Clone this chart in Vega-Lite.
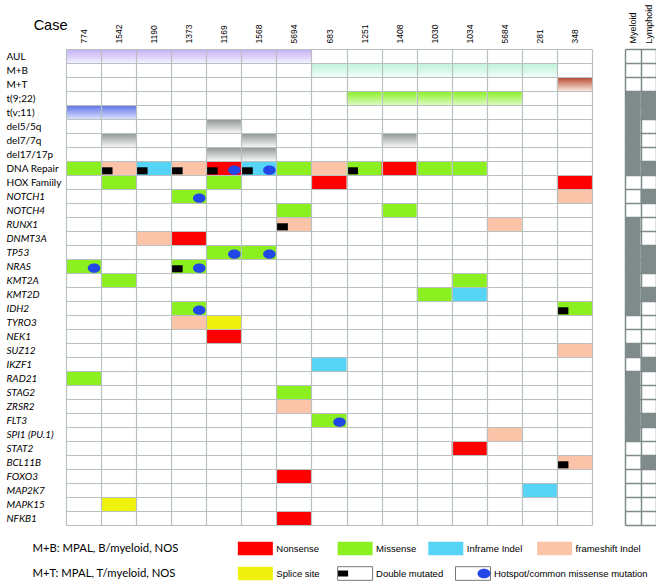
{
  "$schema": "https://vega.github.io/schema/vega-lite/v6.json",
  "padding": {"left": 6, "top": 4, "right": 0, "bottom": 0},
  "background": "white",
  "config": {
    "view": {"stroke": null},
    "font": "Liberation Sans",
    "axis": {"labelColor": "#000", "titleColor": "#000"}
  },
  "datasets": {
    "bands": [
      {"row": "AUL", "case": "774", "type": "AUL"},
      {"row": "AUL", "case": "1542", "type": "AUL"},
      {"row": "AUL", "case": "1190", "type": "AUL"},
      {"row": "AUL", "case": "1373", "type": "AUL"},
      {"row": "AUL", "case": "1169", "type": "AUL"},
      {"row": "AUL", "case": "1568", "type": "AUL"},
      {"row": "AUL", "case": "5694", "type": "AUL"},
      {"row": "M+B", "case": "683", "type": "MB"},
      {"row": "M+B", "case": "1251", "type": "MB"},
      {"row": "M+B", "case": "1408", "type": "MB"},
      {"row": "M+B", "case": "1030", "type": "MB"},
      {"row": "M+B", "case": "1034", "type": "MB"},
      {"row": "M+B", "case": "5684", "type": "MB"},
      {"row": "M+B", "case": "281", "type": "MB"},
      {"row": "M+T", "case": "348", "type": "MT"},
      {"row": "t(9;22)", "case": "1251", "type": "BCR"},
      {"row": "t(9;22)", "case": "1408", "type": "BCR"},
      {"row": "t(9;22)", "case": "1030", "type": "BCR"},
      {"row": "t(9;22)", "case": "1034", "type": "BCR"},
      {"row": "t(9;22)", "case": "5684", "type": "BCR"},
      {"row": "t(v;11)", "case": "774", "type": "KMT"},
      {"row": "t(v;11)", "case": "1542", "type": "KMT"},
      {"row": "del5/5q", "case": "1169", "type": "del"},
      {"row": "del7/7q", "case": "1542", "type": "del"},
      {"row": "del7/7q", "case": "1568", "type": "del"},
      {"row": "del7/7q", "case": "1408", "type": "del"},
      {"row": "del17/17p", "case": "1169", "type": "del"},
      {"row": "del17/17p", "case": "1568", "type": "del"}
    ],
    "muts": [
      {"row": "DNA Repair", "case": "774", "type": "Missense"},
      {"row": "DNA Repair", "case": "1542", "type": "frameshift Indel", "dbl": true},
      {"row": "DNA Repair", "case": "1190", "type": "Inframe Indel", "dbl": true},
      {"row": "DNA Repair", "case": "1373", "type": "frameshift Indel", "dbl": true},
      {"row": "DNA Repair", "case": "1169", "type": "Nonsense", "dbl": true, "hot": true},
      {"row": "DNA Repair", "case": "1568", "type": "Inframe Indel", "dbl": true, "hot": true},
      {"row": "DNA Repair", "case": "5694", "type": "Missense"},
      {"row": "DNA Repair", "case": "683", "type": "frameshift Indel"},
      {"row": "DNA Repair", "case": "1251", "type": "Missense", "dbl": true},
      {"row": "DNA Repair", "case": "1408", "type": "Nonsense"},
      {"row": "DNA Repair", "case": "1030", "type": "Missense"},
      {"row": "DNA Repair", "case": "1034", "type": "Missense"},
      {"row": "HOX Famiily", "case": "1542", "type": "Missense"},
      {"row": "HOX Famiily", "case": "1169", "type": "Missense"},
      {"row": "HOX Famiily", "case": "683", "type": "Nonsense"},
      {"row": "HOX Famiily", "case": "348", "type": "Nonsense"},
      {"row": "NOTCH1", "case": "1373", "type": "Missense", "hot": true},
      {"row": "NOTCH1", "case": "348", "type": "frameshift Indel"},
      {"row": "NOTCH4", "case": "5694", "type": "Missense"},
      {"row": "NOTCH4", "case": "1408", "type": "Missense"},
      {"row": "RUNX1", "case": "5694", "type": "frameshift Indel", "dbl": true},
      {"row": "RUNX1", "case": "5684", "type": "frameshift Indel"},
      {"row": "DNMT3A", "case": "1190", "type": "frameshift Indel"},
      {"row": "DNMT3A", "case": "1373", "type": "Nonsense"},
      {"row": "TP53", "case": "1169", "type": "Missense", "hot": true},
      {"row": "TP53", "case": "1568", "type": "Missense", "hot": true},
      {"row": "NRAS", "case": "774", "type": "Missense", "hot": true},
      {"row": "NRAS", "case": "1373", "type": "Missense", "dbl": true, "hot": true},
      {"row": "KMT2A", "case": "1542", "type": "Missense"},
      {"row": "KMT2A", "case": "1034", "type": "Missense"},
      {"row": "KMT2D", "case": "1030", "type": "Missense"},
      {"row": "KMT2D", "case": "1034", "type": "Inframe Indel"},
      {"row": "IDH2", "case": "1373", "type": "Missense", "hot": true},
      {"row": "IDH2", "case": "348", "type": "Missense", "dbl": true},
      {"row": "TYRO3", "case": "1373", "type": "frameshift Indel"},
      {"row": "TYRO3", "case": "1169", "type": "Splice site"},
      {"row": "NEK1", "case": "1169", "type": "Nonsense"},
      {"row": "SUZ12", "case": "348", "type": "frameshift Indel"},
      {"row": "IKZF1", "case": "683", "type": "Inframe Indel"},
      {"row": "RAD21", "case": "774", "type": "Missense"},
      {"row": "STAG2", "case": "5694", "type": "Missense"},
      {"row": "ZRSR2", "case": "5694", "type": "frameshift Indel"},
      {"row": "FLT3", "case": "683", "type": "Missense", "hot": true},
      {"row": "SPI1 (PU.1)", "case": "5684", "type": "frameshift Indel"},
      {"row": "STAT2", "case": "1034", "type": "Nonsense"},
      {"row": "BCL11B", "case": "348", "type": "frameshift Indel", "dbl": true},
      {"row": "FOXO3", "case": "5694", "type": "Nonsense"},
      {"row": "MAP2K7", "case": "281", "type": "Inframe Indel"},
      {"row": "MAPK15", "case": "1542", "type": "Splice site"},
      {"row": "NFKB1", "case": "5694", "type": "Nonsense"}
    ],
    "lineage": [
      {"row": "t(9;22)", "lin": "Myeloid"}, {"row": "t(9;22)", "lin": "Lymphoid"},
      {"row": "t(v;11)", "lin": "Myeloid"}, {"row": "t(v;11)", "lin": "Lymphoid"},
      {"row": "del5/5q", "lin": "Myeloid"},
      {"row": "del7/7q", "lin": "Myeloid"},
      {"row": "del17/17p", "lin": "Myeloid"},
      {"row": "DNA Repair", "lin": "Myeloid"}, {"row": "DNA Repair", "lin": "Lymphoid"},
      {"row": "NOTCH1", "lin": "Lymphoid"},
      {"row": "RUNX1", "lin": "Myeloid"},
      {"row": "DNMT3A", "lin": "Myeloid"},
      {"row": "TP53", "lin": "Myeloid"}, {"row": "TP53", "lin": "Lymphoid"},
      {"row": "NRAS", "lin": "Myeloid"}, {"row": "NRAS", "lin": "Lymphoid"},
      {"row": "KMT2A", "lin": "Myeloid"},
      {"row": "KMT2D", "lin": "Myeloid"}, {"row": "KMT2D", "lin": "Lymphoid"},
      {"row": "IDH2", "lin": "Myeloid"},
      {"row": "SUZ12", "lin": "Myeloid"},
      {"row": "IKZF1", "lin": "Lymphoid"},
      {"row": "RAD21", "lin": "Myeloid"},
      {"row": "STAG2", "lin": "Myeloid"},
      {"row": "ZRSR2", "lin": "Myeloid"},
      {"row": "FLT3", "lin": "Myeloid"}, {"row": "FLT3", "lin": "Lymphoid"},
      {"row": "SPI1 (PU.1)", "lin": "Myeloid"},
      {"row": "BCL11B", "lin": "Lymphoid"}
    ],
    "legend": [
      {"lrow": "M+B: MPAL, B/myeloid, NOS", "slot": "s19", "label": "Nonsense", "kind": "Nonsense"},
      {"lrow": "M+B: MPAL, B/myeloid, NOS", "slot": "s30", "label": "Missense", "kind": "Missense"},
      {"lrow": "M+B: MPAL, B/myeloid, NOS", "slot": "s40", "label": "Inframe Indel", "kind": "Inframe Indel"},
      {"lrow": "M+B: MPAL, B/myeloid, NOS", "slot": "s52", "label": "frameshift Indel", "kind": "frameshift Indel"},
      {"lrow": "M+T: MPAL, T/myeloid, NOS", "slot": "s19", "label": "Splice site", "kind": "Splice site"},
      {"lrow": "M+T: MPAL, T/myeloid, NOS", "slot": "s30", "label": "Double mutated", "kind": "Double"},
      {"lrow": "M+T: MPAL, T/myeloid, NOS", "slot": "s43", "label": "Hotspot/common missense mutation", "kind": "Hotspot"}
    ]
  },
  "spacing": 11,
  "vconcat": [
    {
      "spacing": 28,
      "hconcat": [
        {
          "width": 526,
          "height": 476,
          "encoding": {
            "x": {
              "field": "case", "type": "nominal",
              "scale": {"domain": ["774","1542","1190","1373","1169","1568","5694","683","1251","1408","1030","1034","5684","281","348"], "paddingInner": 0, "paddingOuter": 0},
              "axis": {
                "orient": "top", "title": "Case", "labelAngle": -90, "labelAlign": "left", "labelBaseline": "middle",
                "labelPadding": 6, "ticks": false, "domain": false, "grid": true, "tickBand": "extent",
                "gridColor": "#b9c0c0", "gridWidth": 1.2, "zindex": 1,
                "labelFont": "Liberation Sans", "labelFontSize": 8.5,
                "titleFont": "Liberation Sans", "titleFontSize": 14.5, "titleFontWeight": "normal",
                "titleAngle": 0, "titleAlign": "right", "titleBaseline": "middle", "titleX": 1, "titleY": -24
              }
            },
            "y": {
              "field": "row", "type": "nominal",
              "scale": {"domain": ["AUL","M+B","M+T","t(9;22)","t(v;11)","del5/5q","del7/7q","del17/17p","DNA Repair","HOX Famiily","NOTCH1","NOTCH4","RUNX1","DNMT3A","TP53","NRAS","KMT2A","KMT2D","IDH2","TYRO3","NEK1","SUZ12","IKZF1","RAD21","STAG2","ZRSR2","FLT3","SPI1 (PU.1)","STAT2","BCL11B","FOXO3","MAP2K7","MAPK15","NFKB1"], "paddingInner": 0, "paddingOuter": 0},
              "axis": {
                "title": null, "labelAlign": "left", "labelPadding": 60, "ticks": false, "domain": false,
                "grid": true, "tickBand": "extent", "gridColor": "#b9c0c0", "gridWidth": 1.2, "zindex": 1,
                "labelFont": "Lato", "labelFontSize": 10, "minExtent": 0,
                "labelFontStyle": {"condition": {"test": "indexof(['AUL','M+B','M+T','t(9;22)','t(v;11)','del5/5q','del7/7q','del17/17p','DNA Repair','HOX Famiily'], datum.value) >= 0", "value": "normal"}, "value": "italic"}
              }
            }
          },
          "layer": [
            {"data": {"name": "bands"}, "transform": [{"filter": "datum.type === 'AUL'"}],
             "mark": {"type": "rect", "fill": {"gradient": "linear", "x1": 0, "y1": 0, "x2": 0, "y2": 1, "stops": [{"offset": 0, "color": "#c2aef5"}, {"offset": 1, "color": "#f3effe"}]}}},
            {"data": {"name": "bands"}, "transform": [{"filter": "datum.type === 'MB'"}],
             "mark": {"type": "rect", "fill": {"gradient": "linear", "x1": 0, "y1": 0, "x2": 0, "y2": 1, "stops": [{"offset": 0, "color": "#bdf2da"}, {"offset": 1, "color": "#effdf6"}]}}},
            {"data": {"name": "bands"}, "transform": [{"filter": "datum.type === 'MT'"}],
             "mark": {"type": "rect", "fill": {"gradient": "linear", "x1": 0, "y1": 0, "x2": 0, "y2": 1, "stops": [{"offset": 0, "color": "#b3432a"}, {"offset": 1, "color": "#fbe6dc"}]}}},
            {"data": {"name": "bands"}, "transform": [{"filter": "datum.type === 'BCR'"}],
             "mark": {"type": "rect", "fill": {"gradient": "linear", "x1": 0, "y1": 0, "x2": 0, "y2": 1, "stops": [{"offset": 0, "color": "#88ee22"}, {"offset": 1, "color": "#dcfbbf"}]}}},
            {"data": {"name": "bands"}, "transform": [{"filter": "datum.type === 'KMT'"}],
             "mark": {"type": "rect", "fill": {"gradient": "linear", "x1": 0, "y1": 0, "x2": 0, "y2": 1, "stops": [{"offset": 0, "color": "#5a6fe6"}, {"offset": 1, "color": "#dbe0fb"}]}}},
            {"data": {"name": "bands"}, "transform": [{"filter": "datum.type === 'del'"}],
             "mark": {"type": "rect", "fill": {"gradient": "linear", "x1": 0, "y1": 0, "x2": 0, "y2": 1, "stops": [{"offset": 0, "color": "#8e9393"}, {"offset": 1, "color": "#f6f6f6"}]}}},
            {"data": {"name": "muts"},
             "mark": {"type": "rect"},
             "encoding": {"color": {"field": "type", "type": "nominal", "legend": null,
               "scale": {"domain": ["Nonsense","Missense","Inframe Indel","frameshift Indel","Splice site"], "range": ["#fe0000","#8cf020","#56d4f6","#fbc3a8","#eef20c"]}}}},
            {"data": {"name": "muts"}, "transform": [{"filter": "datum.dbl"}],
             "mark": {"type": "point", "shape": "M-1,-0.64L1,-0.64L1,0.64L-1,0.64Z", "size": 121, "filled": true, "color": "#000", "opacity": 1, "strokeWidth": 0},
             "encoding": {"x": {"field": "case", "type": "nominal", "bandPosition": 0.17}, "y": {"field": "row", "type": "nominal", "bandPosition": 0.7}}},
            {"data": {"name": "muts"}, "transform": [{"filter": "datum.hot"}],
             "mark": {"type": "point", "shape": "M-1,0A1,0.74 0 1,1 1,0A1,0.74 0 1,1 -1,0Z", "size": 156, "filled": true, "color": "#2347e6", "opacity": 1, "strokeWidth": 0},
             "encoding": {"x": {"field": "case", "type": "nominal", "bandPosition": 0.8}, "y": {"field": "row", "type": "nominal", "bandPosition": 0.66}}}
          ]
        },
        {
          "width": 31,
          "height": 476,
          "data": {"name": "lineage"},
          "mark": {"type": "rect", "fill": "#7f8a8a"},
          "encoding": {
            "x": {
              "field": "lin", "type": "nominal",
              "scale": {"domain": ["Myeloid", "Lymphoid"], "paddingInner": 0, "paddingOuter": 0},
              "axis": {"orient": "top", "title": null, "labelAngle": -90, "labelAlign": "left", "labelBaseline": "middle",
                "labelPadding": 6, "ticks": false, "domain": false, "grid": true, "tickBand": "extent",
                "gridColor": "#7f8a8a", "gridWidth": 1.5, "labelFont": "Liberation Sans", "labelFontSize": 9}
            },
            "y": {
              "field": "row", "type": "nominal",
              "scale": {"domain": ["AUL","M+B","M+T","t(9;22)","t(v;11)","del5/5q","del7/7q","del17/17p","DNA Repair","HOX Famiily","NOTCH1","NOTCH4","RUNX1","DNMT3A","TP53","NRAS","KMT2A","KMT2D","IDH2","TYRO3","NEK1","SUZ12","IKZF1","RAD21","STAG2","ZRSR2","FLT3","SPI1 (PU.1)","STAT2","BCL11B","FOXO3","MAP2K7","MAPK15","NFKB1"], "paddingInner": 0, "paddingOuter": 0},
              "axis": {"title": null, "labels": false, "ticks": false, "domain": false, "grid": true, "tickBand": "extent",
                "gridColor": "#7f8a8a", "gridWidth": 1.5, "minExtent": 0}
            }
          }
        }
      ]
    },
    {
      "width": 526,
      "height": 50,
      "data": {"name": "legend"},
      "encoding": {
        "x": {"field": "slot", "type": "nominal",
          "scale": {"domain": ["s0","s1","s2","s3","s4","s5","s6","s7","s8","s9","s10","s11","s12","s13","s14","s15","s16","s17","s18","s19","s20","s21","s22","s23","s24","s25","s26","s27","s28","s29","s30","s31","s32","s33","s34","s35","s36","s37","s38","s39","s40","s41","s42","s43","s44","s45","s46","s47","s48","s49","s50","s51","s52","s53","s54","s55","s56","s57"], "paddingInner": 0, "paddingOuter": 0},
          "axis": null},
        "y": {"field": "lrow", "type": "nominal",
          "scale": {"domain": ["M+B: MPAL, B/myeloid, NOS", "M+T: MPAL, T/myeloid, NOS"], "paddingInner": 0, "paddingOuter": 0},
          "axis": {"title": null, "labelAlign": "left", "labelPadding": 34, "ticks": false, "domain": false,
            "labelFont": "Lato", "labelFontSize": 11.3, "minExtent": 0}}
      },
      "layer": [
        {"transform": [{"filter": "datum.kind !== 'Double' && datum.kind !== 'Hotspot'"}],
         "mark": {"type": "point", "shape": "M-1,-0.39L1,-0.39L1,0.39L-1,0.39Z", "size": 1225, "filled": true, "opacity": 1, "strokeWidth": 0, "xOffset": 12.5},
         "encoding": {
           "color": {"field": "kind", "type": "nominal", "legend": null,
             "scale": {"domain": ["Nonsense","Missense","Inframe Indel","frameshift Indel","Splice site"], "range": ["#fe0000","#8cf020","#56d4f6","#fbc3a8","#eef20c"]}}}},
        {"transform": [{"filter": "datum.kind === 'Double' || datum.kind === 'Hotspot'"}],
         "mark": {"type": "point", "shape": "M-1,-0.39L1,-0.39L1,0.39L-1,0.39Z", "size": 1225, "filled": false, "fill": "#fff", "stroke": "#777", "strokeWidth": 1, "opacity": 1, "xOffset": 12.5}},
        {"transform": [{"filter": "datum.kind === 'Double'"}],
         "mark": {"type": "point", "shape": "M-1,-0.6L1,-0.6L1,0.6L-1,0.6Z", "size": 100, "filled": true, "color": "#000", "opacity": 1, "strokeWidth": 0, "xOffset": 0.5},
         "encoding": {"y": {"field": "lrow", "type": "nominal", "bandPosition": 0.67}}},
        {"transform": [{"filter": "datum.kind === 'Hotspot'"}],
         "mark": {"type": "point", "shape": "M-1,0A1,0.74 0 1,1 1,0A1,0.74 0 1,1 -1,0Z", "size": 169, "filled": true, "color": "#2347e6", "opacity": 1, "strokeWidth": 0, "xOffset": 23.5},
         "encoding": {"y": {"field": "lrow", "type": "nominal", "bandPosition": 0.64}}},
        {"mark": {"type": "text", "align": "left", "baseline": "middle", "font": "Liberation Sans", "fontSize": 9.5, "color": "#000", "dx": 33.5},
         "encoding": {"text": {"field": "label"}}}
      ]
    }
  ]
}
